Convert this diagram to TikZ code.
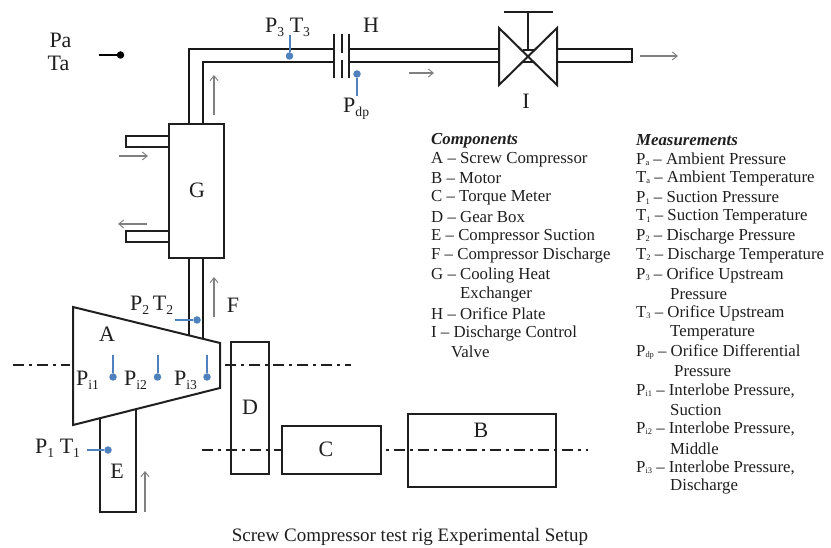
\documentclass[tikz,border=0pt]{standalone}
\usepackage{fontspec}
\setmainfont{Liberation Serif}
\usetikzlibrary{arrows.meta}
\newcommand{\sbs}[1]{\raisebox{-0.18em}{\scalebox{0.62}{#1}}}
\newcommand{\tinysb}[1]{\raisebox{-0.08em}{\scalebox{0.5}{#1}}}
\definecolor{sensorblue}{HTML}{4F81BD}
\definecolor{txt}{HTML}{1E1E1E}
\tikzset{
  x=1pt,y=-1pt,
  line/.style={draw=black!88,line width=2pt},
  pipe/.style={draw=black!90,line width=2pt},
  box/.style={draw=black!88,line width=2pt,fill=white,inner sep=0pt,rectangle},
  flow/.style={draw=black!50,line width=1.1pt,-{Straight Barb[length=5pt,width=8pt,line width=0.9pt]}},
  axis/.style={draw=black!88,line width=2pt,dash pattern=on 11pt off 5pt on 3pt off 5pt},
  probe/.style={draw=sensorblue,line width=2pt},
  sdot/.style={circle,fill=sensorblue,inner sep=0pt,minimum size=7.5pt},
  kdot/.style={circle,fill=black,inner sep=0pt,minimum size=7.5pt},
  lab/.style={font=\fontsize{22}{24}\selectfont,text=txt,inner sep=0pt},
  leg/.style={font=\fontsize{16.8}{18}\selectfont,text=txt,inner sep=0pt,anchor=west,yshift=-1.5pt},
}
\begin{document}
\begin{tikzpicture}
\useasboundingbox (0,0) rectangle (831,548);
% axes
\coordinate (a1) at (13,365); \coordinate (a2) at (70,365);
\coordinate (a3) at (225,365); \coordinate (a4) at (351,365);
\coordinate (b1) at (202,450); \coordinate (b2) at (588,450);
\draw[axis] (a1) -- (a2);
\draw[axis] (a3) -- (a4);
\draw[axis] (b1) -- (b2);
% discharge pipe
\coordinate (o1) at (189,258); \coordinate (o2) at (189,49.5); \coordinate (o3) at (334,49.5);
\coordinate (i1) at (203,258); \coordinate (i2) at (203,62); \coordinate (i3) at (334,62);
\draw[pipe,line join=miter] (o1) -- (o2) -- (o3);
\draw[pipe] (i1) -- (i2) -- (i3);
\coordinate (o4) at (349,49.5); \coordinate (o5) at (499,49.5);
\coordinate (i4) at (349,62); \coordinate (i5) at (499,62);
\draw[pipe] (o4) -- (o5); \draw[pipe] (i4) -- (i5);
% orifice
\coordinate (h1a) at (334,34); \coordinate (h1b) at (334,78);
\coordinate (h2a) at (341.5,34); \coordinate (h2b) at (341.5,53.5);
\coordinate (h2c) at (341.5,60); \coordinate (h2d) at (341.5,78);
\coordinate (h3a) at (349,34); \coordinate (h3b) at (349,78);
\draw[line] (h1a) -- (h1b);
\draw[line] (h2a) -- (h2b); \draw[line] (h2c) -- (h2d);
\draw[line] (h3a) -- (h3b);
% valve
\coordinate (v1) at (499,28); \coordinate (v2) at (499,85);
\coordinate (v3) at (557,28); \coordinate (v4) at (557,85);
\coordinate (vs) at (528,12);
\coordinate (vh1) at (504,12); \coordinate (vh2) at (553,12);
\draw[line,line join=miter] (v1) -- (v4) -- (v3) -- (v2) -- cycle;
\draw[line] (vs) -- (528,50);
\draw[line] (vh1) -- (vh2);
\draw[line] (522.5,50) -- (533.5,50);
\draw[line] (522.5,62) -- (533.5,62);
% outlet stub
\draw[pipe] (557,49.5) -- (632,49.5) -- (632,62) -- (557,62);
% cooler
\draw[line,fill=white] (126,136) rectangle (170,147);
\draw[line,fill=white] (126,231) rectangle (170,242);
\node[box,minimum width=55pt,minimum height=134.5pt] (G) at (196.5,191) {};
% lower discharge pipe
\draw[pipe] (G.south -| o1) -- (189,336);
\draw[pipe] (G.south -| i1) -- (203,339);
% suction pipe E
\coordinate (e1) at (100,418); \coordinate (e2) at (100,512); \coordinate (e3) at (136,512); \coordinate (e4) at (136,409);
\draw[line,line join=miter] (e1) -- (e2) -- (e3) -- (e4);
% compressor
\coordinate (t1) at (73,307); \coordinate (t2) at (220,343); \coordinate (t3) at (220,388); \coordinate (t4) at (73,425);
\draw[line,line join=miter] (t1) -- (t2) -- (t3) -- (t4) -- cycle;
% machines
\node[box,fill=none,minimum width=38pt,minimum height=132pt] (D) at (250,408) {};
\node[box,minimum width=99pt,minimum height=48pt] (C) at (331.5,450) {};
\node[box,fill=none,minimum width=148pt,minimum height=73pt] (B) at (482,450.5) {};
% flow arrows
\coordinate (f1a) at (214,115); \coordinate (f1b) at (214,75);
\coordinate (f2a) at (409,73); \coordinate (f2b) at (434,73);
\coordinate (f3a) at (640,56); \coordinate (f3b) at (678,56);
\coordinate (f4a) at (119,156); \coordinate (f4b) at (148,156);
\coordinate (f5a) at (147,224); \coordinate (f5b) at (118,224);
\coordinate (f6a) at (214,317); \coordinate (f6b) at (214,277);
\coordinate (f7a) at (145,512); \coordinate (f7b) at (145,471);
\foreach \p in {1,...,7} \draw[flow] (f\p a) -- (f\p b);
% ambient probe
\node[kdot] (pa) at (120.5,55) {};
\coordinate (pa0) at (99,55);
\draw[draw=black,line width=2pt] (pa0) -- (pa);
% blue probes
\node[sdot] (s3) at (289.5,56) {}; \coordinate (s3e) at (289.5,35);
\node[sdot] (sd) at (357,74) {}; \coordinate (sde) at (357,96);
\node[sdot] (s2) at (197,320) {}; \coordinate (s2e) at (175,320);
\node[sdot] (s1) at (108,450) {}; \coordinate (s1e) at (87,450);
\node[sdot] (si1) at (113,377) {}; \coordinate (si1e) at (113,355);
\node[sdot] (si2) at (157.5,377) {}; \coordinate (si2e) at (157.5,355);
\node[sdot] (si3) at (207,377) {}; \coordinate (si3e) at (207,355);
\foreach \n in {s3,sd,s2,s1,si1,si2,si3} \draw[probe] (\n) -- (\n e);
% letter labels
\node[lab] (lG) at (197,190) {G};
\node[lab] (lH) at (371,25) {H};
\node[lab] (lI) at (526,101) {I};
\node[lab] (lA) at (107,334) {A};
\node[lab] (lB) at (481,430) {B};
\node[lab] (lC) at (326,449) {C};
\node[lab] (lD) at (250,407) {D};
\node[lab] (lE) at (117,471) {E};
\node[lab] (lF) at (233,305) {F};
\node[lab] (lPa) at (60.5,40) {Pa};
\node[lab] (lTa) at (58.5,63) {Ta};
\node[lab,anchor=west] (lP3) at (265,27) {P\sbs{3} T\sbs{3}};
\node[lab,anchor=west] (lPd) at (343,109) {P\sbs{dp}};
\node[lab,anchor=west] (lP2) at (130,305) {P\sbs{2}\,T\sbs{2}};
\node[lab,anchor=west] (lP1) at (35,448) {P\sbs{1} T\sbs{1}};
\node[lab,anchor=west] (lPi1) at (76,380.5) {P\sbs{i1}};
\node[lab,anchor=west] (lPi2) at (124,380.5) {P\sbs{i2}};
\node[lab,anchor=west] (lPi3) at (174,380.5) {P\sbs{i3}};
% components
\node[leg,font=\fontsize{16.8}{18}\selectfont\bfseries\itshape] (c0) at (431,139) {Components};
\node[leg] (c1) at (431,158) {A – Screw Compressor};
\node[leg] (c2) at (431,177) {B – Motor};
\node[leg] (c3) at (431,196.5) {C – Torque Meter};
\node[leg] (c4) at (431,215.5) {D – Gear Box};
\node[leg] (c5) at (431,235) {E – Compressor Suction};
\node[leg] (c6) at (431,254) {F – Compressor Discharge};
\node[leg] (c7) at (431,273.5) {G – Cooling Heat};
\node[leg] (c8) at (460,293) {Exchanger};
\node[leg] (c9) at (431,312) {H – Orifice Plate};
\node[leg] (c10) at (431,331.5) {I – Discharge Control};
\node[leg] (c11) at (451,350.5) {Valve};
% measurements
\node[leg,font=\fontsize{16.8}{18}\selectfont\bfseries\itshape] (m0) at (636,139) {Measurements};
\node[leg] (m1) at (636,158) {P\tinysb{a} – Ambient Pressure};
\node[leg] (m2) at (636,177) {T\tinysb{a} – Ambient Temperature};
\node[leg] (m3) at (636,196.5) {P\tinysb{1} – Suction Pressure};
\node[leg] (m4) at (636,215.5) {T\tinysb{1} – Suction Temperature};
\node[leg] (m5) at (636,235) {P\tinysb{2} – Discharge Pressure};
\node[leg] (m6) at (636,254) {T\tinysb{2} – Discharge Temperature};
\node[leg] (m7) at (636,273.5) {P\tinysb{3} – Orifice Upstream};
\node[leg] (m8) at (670,293) {Pressure};
\node[leg] (m9) at (636,312) {T\tinysb{3} – Orifice Upstream};
\node[leg] (m10) at (670,331.5) {Temperature};
\node[leg] (m11) at (636,350.5) {P\tinysb{dp} – Orifice Differential};
\node[leg] (m12) at (674,370) {Pressure};
\node[leg] (m13) at (636,389) {P\tinysb{i1} – Interlobe Pressure,};
\node[leg] (m14) at (670,408.5) {Suction};
\node[leg] (m15) at (636,427.5) {P\tinysb{i2} – Interlobe Pressure,};
\node[leg] (m16) at (670,447) {Middle};
\node[leg] (m17) at (636,466) {P\tinysb{i3} – Interlobe Pressure,};
\node[leg] (m18) at (670,485) {Discharge};
\node[leg,anchor=center,font=\fontsize{19}{20}\selectfont] (cap) at (410,535.5) {Screw Compressor test rig Experimental Setup};
\end{tikzpicture}
\end{document}
